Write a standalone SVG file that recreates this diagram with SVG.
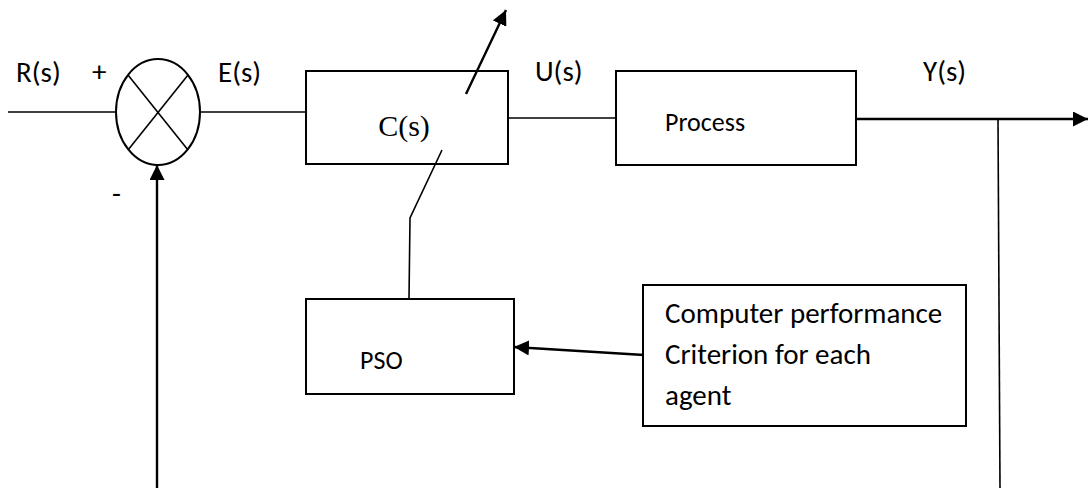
<svg xmlns="http://www.w3.org/2000/svg" width="1089" height="488" viewBox="0 0 1089 488">
  <style>
    .box { fill: #ffffff; stroke: #000000; stroke-width: 2; }
    .wire { fill: none; stroke: #000000; stroke-width: 1.6; }
    .thick { fill: none; stroke: #000000; stroke-width: 2.4; }
    .lbl { font-family: Carlito, Lato, "Open Sans", sans-serif; font-size: 29px; fill: #000000; }
    .blk { font-family: Carlito, Lato, "Open Sans", sans-serif; font-size: 26px; fill: #000000; }
    .serif { font-family: "Liberation Serif", "Times New Roman", serif; font-size: 30px; fill: #000000; }
  </style>
  <defs>
    <marker id="headL" viewBox="0 0 10 10" refX="10" refY="5" markerWidth="15" markerHeight="15" markerUnits="userSpaceOnUse" orient="auto">
      <path d="M0,0 L10,5 L0,10 z" fill="#000000"/>
    </marker>
  </defs>

  <!-- summing junction -->
  <g id="sum">
    <ellipse class="box" cx="158" cy="112" rx="42" ry="53"/>
    <line class="wire" x1="128" y1="75" x2="188" y2="150"/>
    <line class="wire" x1="188" y1="75" x2="128" y2="150"/>
    <text class="lbl" x="92" y="81">+</text>
    <text class="lbl" x="112" y="203">-</text>
  </g>

  <g id="controller">
    <rect class="box" x="306" y="71" width="202" height="93"/>
    <text class="serif" x="404" y="136" text-anchor="middle">C(s)</text>
  </g>

  <g id="process">
    <rect class="box" x="616" y="71" width="240" height="94"/>
    <text class="blk" x="665" y="131">Process</text>
  </g>

  <g id="pso">
    <rect class="box" x="306" y="299" width="208" height="95"/>
    <text class="blk" x="360" y="369">PSO</text>
  </g>

  <g id="criterion">
    <rect class="box" x="643" y="285" width="323" height="141"/>
    <text class="lbl" x="665" y="323">Computer performance</text>
    <text class="lbl" x="665" y="364">Criterion for each</text>
    <text class="lbl" x="665" y="405">agent</text>
  </g>

  <g id="signals">
    <text class="lbl" x="16" y="82">R(s)</text>
    <text class="lbl" x="218" y="82">E(s)</text>
    <text class="lbl" x="535" y="81">U(s)</text>
    <text class="lbl" x="923" y="81">Y(s)</text>
  </g>

  <!-- signal lines and arrows, drawn over the blocks -->
  <g id="connectors">
    <line class="wire" x1="8" y1="112" x2="116" y2="112"/>
    <line class="wire" x1="200" y1="112" x2="306" y2="112"/>
    <line class="wire" x1="508" y1="118" x2="616" y2="118"/>
    <line class="thick" x1="856" y1="119" x2="1088" y2="119" marker-end="url(#headL)"/>
    <line class="wire" x1="998" y1="119" x2="1000" y2="488"/>
    <line class="thick" x1="157" y1="488" x2="157" y2="165" marker-end="url(#headL)"/>
    <!-- adjustable-gain arrow through C(s) -->
    <line class="thick" x1="466" y1="94" x2="506" y2="10" marker-end="url(#headL)"/>
    <polyline class="wire" points="442,150 410,218 409,299"/>
    <line class="thick" x1="644" y1="355" x2="514" y2="347" marker-end="url(#headL)"/>
  </g>
</svg>
